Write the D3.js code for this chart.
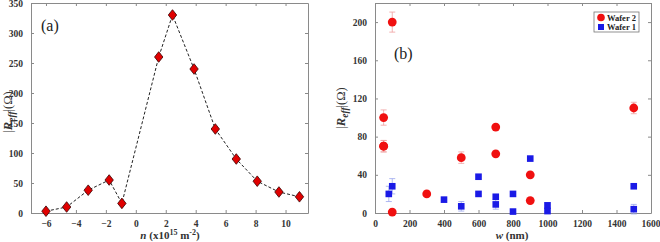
<!DOCTYPE html>
<html>
<head>
<meta charset="utf-8">
<script src="https://cdn.jsdelivr.net/npm/d3@7"></script>
<style>
  html, body { margin: 0; padding: 0; background: #fff; }
  svg { display: block; font-family: "Liberation Serif", "Times New Roman", serif; }
</style>
</head>
<body>
<div id="chart"></div>
<script>
// ---- panel (a) data ----
const densityN = [-6.0, -4.62, -3.18, -1.78, -0.93, 1.53, 2.45, 3.89, 5.31, 6.71, 8.11, 9.56, 10.93];
const resistanceA = [3, 10, 38, 55, 16, 260, 330, 240, 140, 90, 53, 35, 27];
const ticksA_x = [-6, -4, -2, 0, 2, 4, 6, 8, 10];
const ticksA_y = [0, 50, 100, 150, 200, 250, 300, 350];

// ---- panel (b) data ----
const wafer2W = [100, 50, 50, 50, 100, 300, 500, 700, 700, 900, 900, 1500];
const wafer2R = [200, 100, 70, 70, 1, 20, 58, 90, 62, 40, 13, 110];
const wafer2Err = [10.5, 8, 6, 6, 0, 0, 6, 0, 0, 0, 0, 6];
const wafer1W = [80, 100, 400, 500, 600, 600, 700, 700, 800, 800, 900, 1000, 1000, 1500, 1500];
const wafer1R = [20, 28, 14, 7, 38, 20, 17, 9, 20, 1.5, 57, 8, 2, 28, 4];
const wafer1Err = [8, 8, 0, 5, 0, 0, 0, 5, 0, 0, 0, 3, 0, 0, 5];
const ticksB_x = [0, 200, 400, 600, 800, 1000, 1200, 1400, 1600];
const ticksB_y = [0, 40, 80, 120, 160, 200];

const W = 660, H = 242;
const svg = d3.select("#chart").append("svg")
    .attr("width", W).attr("height", H);

const frameColor = "#8a8a8a";
const labelColor = "#333";
const fmt = d3.format("d");

// draws frame + inside ticks on all four sides
function drawFrame(x, y, xt, yt) {
    const [x0, x1] = x.range();
    const [y0, y1] = y.range(); // y0 bottom, y1 top
    const g = svg.append("g");

    g.append("g").attr("class", "xaxis").attr("transform", `translate(0,${y0})`)
        .call(d3.axisBottom(x).tickValues(xt).tickFormat(fmt).tickSizeInner(-3).tickSizeOuter(0).tickPadding(7));
    g.append("g").attr("transform", `translate(0,${y1})`)
        .call(d3.axisTop(x).tickValues(xt).tickSizeInner(-3).tickSizeOuter(0).tickFormat(""));
    g.append("g").attr("transform", `translate(${x0},0)`)
        .call(d3.axisLeft(y).tickValues(yt).tickFormat(fmt).tickSizeInner(-3).tickSizeOuter(0).tickPadding(8));
    g.append("g").attr("transform", `translate(${x1},0)`)
        .call(d3.axisRight(y).tickValues(yt).tickSizeInner(-3).tickSizeOuter(0).tickFormat(""));

    g.selectAll(".domain").attr("stroke", frameColor);
    g.selectAll(".tick line").attr("stroke", frameColor);
    g.selectAll(".tick text")
        .attr("fill", labelColor)
        .style("font-family", "'Liberation Serif', serif")
        .style("font-weight", "bold")
        .style("font-size", "9.5px");
    return g;
}

function yLabel(cx, cy) {
    const t = svg.append("text")
        .attr("transform", `translate(${cx},${cy}) rotate(-90)`)
        .attr("text-anchor", "middle")
        .attr("fill", labelColor)
        .style("font-size", "12.5px");
    t.append("tspan").text("|");
    t.append("tspan").style("font-weight", "bold").style("font-style", "italic").text("R");
    t.append("tspan").attr("dy", 3).style("font-weight", "bold").style("font-style", "italic")
        .style("font-size", "9.5px").text("eff");
    t.append("tspan").attr("dy", -3).text("|(Ω)");
}

// =========================
// PANEL (a)
// =========================
const xA = d3.scaleLinear().domain([-7, 11.5]).range([31, 308]);
const yA = d3.scaleLinear().domain([0, 350]).range([213, 3]);
drawFrame(xA, yA, ticksA_x, ticksA_y);

const ptsA = densityN.map((n, i) => ({ n, r: resistanceA[i] }));

svg.append("path")
    .datum(ptsA)
    .attr("fill", "none")
    .attr("stroke", "#222")
    .attr("stroke-width", 1)
    .attr("stroke-dasharray", "3,2")
    .attr("d", d3.line().x(d => xA(d.n)).y(d => yA(d.r)));

svg.append("g").selectAll("path")
    .data(ptsA)
    .join("path")
    .attr("transform", d => `translate(${xA(d.n)},${yA(d.r)})`)
    .attr("d", "M0,-5.3L4.2,0L0,5.3L-4.2,0Z")
    .attr("fill", "#e00000")
    .attr("stroke", "#3a0000")
    .attr("stroke-width", 0.8);

svg.append("text")
    .attr("x", 41).attr("y", 31)
    .attr("fill", "#222")
    .style("font-size", "16px")
    .text("(a)");

yLabel(12, 112);

const xlA = svg.append("text")
    .attr("x", 170).attr("y", 239)
    .attr("text-anchor", "middle")
    .attr("fill", labelColor)
    .style("font-size", "11px")
    .style("font-weight", "bold");
xlA.append("tspan").style("font-style", "italic").text("n");
xlA.append("tspan").text(" (x10");
xlA.append("tspan").attr("dy", -4).style("font-size", "8px").text("15");
xlA.append("tspan").attr("dy", 4).text(" m");
xlA.append("tspan").attr("dy", -4).style("font-size", "8px").text("-2");
xlA.append("tspan").attr("dy", 4).text(")");

// =========================
// PANEL (b)
// =========================
const xB = d3.scaleLinear().domain([0, 1600]).range([375, 651]);
const yB = d3.scaleLinear().domain([0, 220]).range([213, 3]);
const gB = drawFrame(xB, yB, ticksB_x, ticksB_y);
// keep the last label inside the window
gB.select(".xaxis").selectAll(".tick text")
    .filter(d => d === 1600)
    .attr("text-anchor", "end")
    .attr("dx", 9);

const w2 = wafer2W.map((w, i) => ({ w, r: wafer2R[i], e: wafer2Err[i] }));
const w1 = wafer1W.map((w, i) => ({ w, r: wafer1R[i], e: wafer1Err[i] }));

function errorBars(data, color) {
    const g = svg.append("g").attr("stroke", color).attr("stroke-width", 0.8);
    data.filter(d => d.e > 0).forEach(d => {
        const cx = xB(d.w);
        g.append("line").attr("x1", cx).attr("x2", cx)
            .attr("y1", yB(d.r - d.e)).attr("y2", yB(d.r + d.e));
        [d.r - d.e, d.r + d.e].forEach(v => {
            g.append("line").attr("x1", cx - 3).attr("x2", cx + 3)
                .attr("y1", yB(v)).attr("y2", yB(v));
        });
    });
}

errorBars(w2, "#f0a0a0");
errorBars(w1, "#9aa6ee");

svg.append("g").selectAll("rect")
    .data(w1)
    .join("rect")
    .attr("x", d => xB(d.w) - 3.3)
    .attr("y", d => yB(d.r) - 3.3)
    .attr("width", 6.6).attr("height", 6.6)
    .attr("fill", "#1a1ae6");

svg.append("g").selectAll("circle")
    .data(w2)
    .join("circle")
    .attr("cx", d => xB(d.w))
    .attr("cy", d => yB(d.r))
    .attr("r", 4.4)
    .attr("fill", "#f01010");

svg.append("text")
    .attr("x", 394).attr("y", 59)
    .attr("fill", "#222")
    .style("font-size", "16px")
    .text("(b)");

yLabel(345, 108);

const xlB = svg.append("text")
    .attr("x", 512).attr("y", 239)
    .attr("text-anchor", "middle")
    .attr("fill", labelColor)
    .style("font-size", "11px")
    .style("font-weight", "bold");
xlB.append("tspan").style("font-style", "italic").text("w");
xlB.append("tspan").text(" (nm)");

// legend
const leg = svg.append("g").attr("transform", "translate(594,12)");
leg.append("rect")
    .attr("width", 45).attr("height", 20)
    .attr("fill", "#fff").attr("stroke", "#777").attr("stroke-width", 0.8);
leg.append("circle").attr("cx", 7).attr("cy", 5.5).attr("r", 3.8).attr("fill", "#f01010");
leg.append("rect").attr("x", 4).attr("y", 12).attr("width", 6).attr("height", 6).attr("fill", "#1a1ae6");
leg.append("text").attr("x", 13).attr("y", 8.5)
    .style("font-size", "8.5px").style("font-weight", "bold").attr("fill", "#222").text("Wafer 2");
leg.append("text").attr("x", 13).attr("y", 17.5)
    .style("font-size", "8.5px").style("font-weight", "bold").attr("fill", "#222").text("Wafer 1");
</script>
</body>
</html>
